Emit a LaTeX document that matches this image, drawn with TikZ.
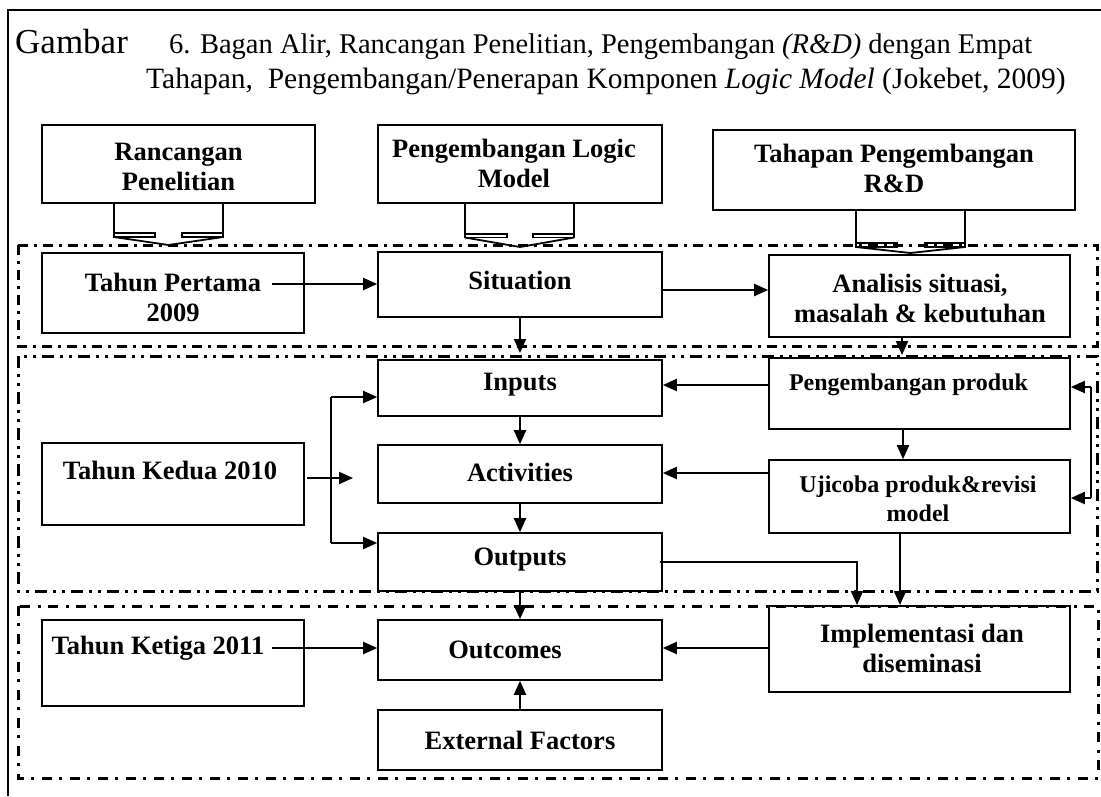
\documentclass[tikz,border=0pt]{standalone}
\usepackage{fontspec}
\setmainfont{Liberation Serif}
\usetikzlibrary{arrows.meta}
% hollow block arrow: x-left, notch-left, notch-right, x-right, y-top, y-strip-top, y-strip-bottom, tip-x, tip-y
\newcommand{\hollowarrow}[9]{%
  \draw[blk] (#1,#5) -- (#1,#7) -- (#2,#7) -- (#2,#6) -- (#1,#6);
  \draw[blk] (#4,#5) -- (#4,#7) -- (#3,#7) -- (#3,#6) -- (#4,#6);
  \draw[blk] (#1,#7) -- (#8,#9) -- (#4,#7);}
\begin{document}
\begin{tikzpicture}[x=1pt,y=-1pt,
  bx/.style={draw, line width=1.6pt, inner sep=0pt},
  lbl/.style={font=\fontsize{26.5}{30}\selectfont\bfseries, align=center, inner sep=0pt},
  lbls/.style={font=\fontsize{24}{29}\selectfont\bfseries, align=center, inner sep=0pt},
  captxt/.style={anchor=base west, inner sep=0pt},
  conn/.style={line width=2pt},
  arr/.style={conn, -{Triangle[length=14pt,width=12pt]}},
  blk/.style={line width=1.8pt, line join=miter},
  zoneA/.style={line width=3pt, dash pattern=on 10pt off 6pt on 3pt off 6pt},
  zoneB/.style={line width=3pt, dash pattern=on 12pt off 6pt on 3pt off 6pt on 3pt off 6pt},
  zoneC/.style={line width=3pt, dash pattern=on 10pt off 7pt on 3pt off 8pt}]
\useasboundingbox (0,0) rectangle (1101,796);
\fill[white] (0,0) rectangle (1101,796);

% outer frame
\draw[line width=2pt] (8,796) -- (8,10) -- (1101,10);

% caption
\node[captxt, font=\fontsize{35}{35}\selectfont] (cap0) at (15,53) {Gambar};
\node[captxt, font=\fontsize{28.5}{35}\selectfont] (cap1) at (169,53)
  {6. Bagan Alir, Rancangan Penelitian, Pengembangan \textit{(R\&D)} dengan Empat};
\node[captxt, font=\fontsize{29.5}{35}\selectfont] (cap2) at (146,88)
  {Tahapan,\ \ Pengembangan/Penerapan Komponen \textit{Logic Model} (Jokebet, 2009)};

% header boxes
\node[bx, minimum width=273pt, minimum height=78pt] (rp) at (178.5,164) {};
\node[lbl] (rpT) at (178.5,167) {Rancangan\\Penelitian};
\node[bx, minimum width=284pt, minimum height=78pt] (plm) at (520,164) {};
\node[lbl] (plmT) at (514,163) {Pengembangan Logic\\Model};
\node[bx, minimum width=362pt, minimum height=80pt] (th) at (894,170) {};
\node[lbl] (thT) at (894,168) {Tahapan Pengembangan\\R\&D};

% hollow arrows below the header boxes
\hollowarrow{114}{155}{182}{223}{203}{233}{237}{168.5}{245}
\hollowarrow{465}{507}{533}{574}{203}{234}{237.5}{520}{247}
\hollowarrow{856}{897}{925}{965}{210}{243}{247}{910.5}{253}

% year zones
\draw[zoneA] (18,245) rectangle (1097,346);
\draw[zoneB] (18,356) rectangle (1097,591);
\draw[zoneC] (18,606) rectangle (1098,778);

% first year
\node[bx, minimum width=262pt, minimum height=80pt] (tp) at (173,293) {};
\node[lbl] (tpT) at (173,297) {Tahun Pertama\\2009};
\node[bx, minimum width=284pt, minimum height=65pt] (sit) at (520,284.5) {};
\node[lbl] (sitT) at (520,280) {Situation};
\node[bx, minimum width=301pt, minimum height=82pt] (ana) at (919.5,296) {};
\node[lbl] (anaT) at (920,298) {Analisis situasi,\\masalah \& kebutuhan};

% second year
\node[bx, minimum width=284pt, minimum height=56pt] (inp) at (520,388) {};
\node[lbl] (inpT) at (520,385) {Inputs};
\node[bx, minimum width=284pt, minimum height=58pt] (act) at (520,474) {};
\node[lbl] (actT) at (520,472) {Activities};
\node[bx, minimum width=284pt, minimum height=58pt] (out) at (520,562) {};
\node[lbl] (outT) at (520,560) {Outputs};
\node[bx, minimum width=262pt, minimum height=82pt] (tk) at (173,484) {};
\node[lbl] (tkT) at (170,470) {Tahun Kedua 2010};
\node[bx, minimum width=301pt, minimum height=71pt] (pp) at (919.5,393.5) {};
\node[lbls] (ppT) at (908.5,385) {Pengembangan produk};
\node[bx, minimum width=301pt, minimum height=73pt] (uji) at (919.5,496.5) {};
\node[lbls] (ujiT) at (918,499) {Ujicoba produk\&revisi\\model};

% third year
\node[bx, minimum width=262pt, minimum height=86pt] (tk3) at (173,663) {};
\node[lbl] (tk3T) at (158,648) {Tahun Ketiga 2011};
\node[bx, minimum width=284pt, minimum height=60pt] (outc) at (520,650) {};
\node[lbl] (outcT) at (505,650) {Outcomes};
\node[bx, minimum width=301pt, minimum height=86pt] (imp) at (919.5,649) {};
\node[lbl] (impT) at (922,648) {Implementasi dan\\diseminasi};
\node[bx, minimum width=284pt, minimum height=60pt] (ext) at (520,740) {};
\node[lbl] (extT) at (520,740) {External Factors};

% connector end points
\coordinate (tpS) at (272,284);
\coordinate (sitE) at (520,353);
\coordinate (anaE) at (902,355);
\coordinate (tkS) at (307,478);
\coordinate (tkE) at (353,478);
\coordinate (tkTop) at (331,397);
\coordinate (tkBot) at (331,543);
\coordinate (fbTop) at (1091,387);
\coordinate (fbBot) at (1091,498);
\coordinate (outS) at (660,562);
\coordinate (outK) at (857,562);
\coordinate (outE) at (857,605);
\coordinate (ujiE) at (900,605);
\coordinate (tk3S) at (272,648);

% first year connectors
\draw[arr] (tpS) -- (tpS -| sit.west);
\draw[arr] (sit.east |- 0,290) -- (ana.west |- 0,290);
\draw[arr] (sit.south) -- (sitE);
\draw[arr] (anaE |- ana.south) -- (anaE);

% second year connectors
\draw[arr] (pp.west |- 0,385) -- (inp.east |- 0,385);
\draw[arr] (uji.west |- 0,473) -- (act.east |- 0,473);
\draw[arr] (903,0 |- pp.south) -- (903,0 |- uji.north);
\draw[arr] (inp.south) -- (act.north);
\draw[arr] (act.south) -- (out.north);
\draw[arr] (tkS) -- (tkE);
\draw[conn] (tkTop) -- (tkBot);
\draw[arr] (tkTop) -- (tkTop -| inp.west);
\draw[arr] (tkBot) -- (tkBot -| out.west);
\draw[conn] (fbTop) -- (fbBot);
\draw[arr] (fbTop) -- (fbTop -| pp.east);
\draw[arr] (fbBot) -- (fbBot -| uji.east);
\draw[arr] (outS) -- (outK) -- (outE);
\draw[arr] (ujiE |- uji.south) -- (ujiE);

% third year connectors
\draw[arr] (out.south) -- (outc.north);
\draw[arr] (imp.west |- 0,648) -- (outc.east |- 0,648);
\draw[arr] (tk3S) -- (tk3S -| outc.west);
\draw[arr] (ext.north) -- (outc.south);
\end{tikzpicture}
\end{document}
